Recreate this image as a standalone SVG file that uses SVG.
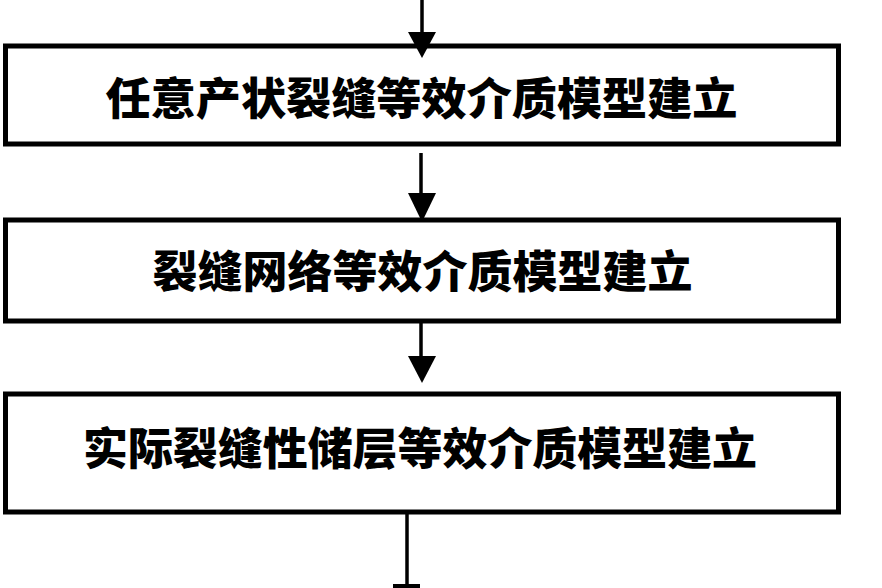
<svg xmlns="http://www.w3.org/2000/svg" width="882" height="588" viewBox="0 0 882 588">
<defs>
<style>
.box{fill:#fff;stroke:#000;stroke-width:5}
.lbl{font-family:"Noto Sans CJK SC","Noto Sans CJK TC",sans-serif;font-weight:900;font-size:44px;fill:#000;text-anchor:middle}
.ln{stroke:#000;stroke-width:3.5;fill:none}
.hd{fill:#000}
</style>
</defs>
<rect width="882" height="588" fill="#fff"/>
<g id="n1">
<rect class="box" x="5.5" y="46" width="833" height="98"/>
<text class="lbl" x="421.5" y="115" textLength="632" lengthAdjust="spacingAndGlyphs">任意产状裂缝等效介质模型建立</text>
</g>
<g id="n2">
<rect class="box" x="5.5" y="220" width="833" height="101"/>
<text class="lbl" x="422.5" y="288" textLength="540" lengthAdjust="spacingAndGlyphs">裂缝网络等效介质模型建立</text>
</g>
<g id="n3">
<rect class="box" x="5.5" y="394" width="833" height="118"/>
<text class="lbl" x="420" y="465" textLength="674" lengthAdjust="spacingAndGlyphs">实际裂缝性储层等效介质模型建立</text>
</g>
<g id="connectors">
<line class="ln" x1="422" y1="0" x2="422" y2="34"/>
<polygon class="hd" points="408,32 436,32 422,58"/>
<line class="ln" x1="421" y1="153" x2="421" y2="195"/>
<polygon class="hd" points="408,193 436,193 422,222"/>
<line class="ln" x1="421" y1="322" x2="421" y2="358"/>
<polygon class="hd" points="408,356 436,356 422,383"/>
<line class="ln" x1="407" y1="514" x2="407" y2="588"/>
<rect class="hd" x="393" y="584" width="27" height="4"/>
</g>
</svg>
